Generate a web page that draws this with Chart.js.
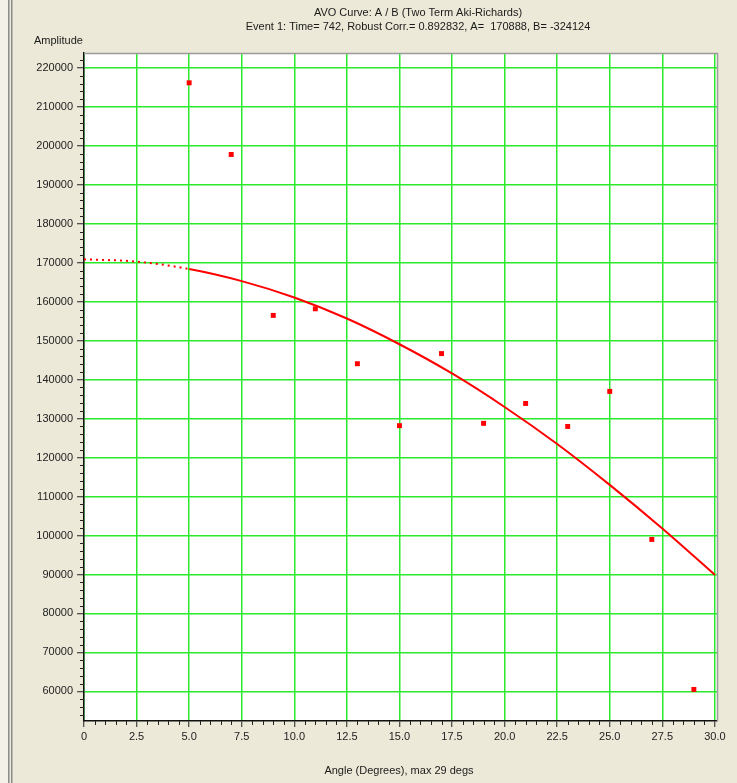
<!DOCTYPE html>
<html>
<head>
<meta charset="utf-8">
<script src="https://cdn.jsdelivr.net/npm/chart.js@4.4.0/dist/chart.umd.min.js"></script>
<style>
    html, body { margin: 0; padding: 0; background: #ECE9D8; }
    #wrap { width: 737px; height: 783px; position: relative; }
</style>
</head>
<body>
<div id="wrap"><canvas id="avoChart" width="737" height="783"></canvas></div>
<script>
// Measured amplitudes per angle (red squares)
const pointAngles = [5, 7, 9, 11, 13, 15, 17, 19, 21, 23, 25, 27, 29];
const pointValues = [216200, 197800, 156500, 158200, 144100, 128200, 146700, 128800, 133900, 128000, 137000, 99000, 60500];

// Fitted AVO curve (dotted below 5 degrees)
const curveAngles = [0, 2.5, 5, 7.5, 10, 12.5, 15, 17.5, 20, 22.5, 25, 27.5, 30];
const curveValues = [170900, 170300, 168400, 165300, 161100, 155700, 149100, 141600, 133000, 123500, 113000, 101800, 89900];

// Axis ticks
const xTicks = [0, 2.5, 5, 7.5, 10, 12.5, 15, 17.5, 20, 22.5, 25, 27.5, 30];
const yTicks = [60000, 70000, 80000, 90000, 100000, 110000, 120000, 130000, 140000, 150000, 160000, 170000, 180000, 190000, 200000, 210000, 220000];

const titleLines = ['AVO Curve: A / B (Two Term Aki-Richards)', 'Event 1: Time= 742, Robust Corr.= 0.892832, A=  170888, B= -324124'];
const yTitle = 'Amplitude';
const xTitle = 'Angle (Degrees), max 29 degs';

const FONT = '"Liberation Sans", Arial, sans-serif';

// Background frame, plot border, titles and minor ticks
const framePlugin = {
    id: 'frame',
    beforeDraw(chart) {
        const c = chart.ctx;
        const a = chart.chartArea;
        c.save();
        c.fillStyle = '#ECE9D8';
        c.fillRect(0, 0, chart.width, chart.height);
        c.fillStyle = '#F3F1E8';
        c.fillRect(0, 0, 8, chart.height);
        c.fillStyle = '#8C8C8C';
        c.fillRect(8, 0, 1.5, chart.height);
        c.fillRect(11, 0, 1.5, chart.height);
        c.fillStyle = '#FFFFFF';
        c.fillRect(a.left, a.top, a.right - a.left, a.bottom - a.top);
        c.restore();
    },
    afterDraw(chart) {
        const c = chart.ctx;
        const a = chart.chartArea;
        const xs = chart.scales.x;
        const ys = chart.scales.y;
        c.save();
        // gray border top/right
        c.strokeStyle = '#9A9A9A';
        c.lineWidth = 1.5;
        c.beginPath();
        c.moveTo(a.left, a.top + 0.5);
        c.lineTo(a.right + 0.5, a.top + 0.5);
        c.lineTo(a.right + 0.5, a.bottom);
        c.stroke();

        // minor ticks
        c.strokeStyle = '#222';
        c.lineWidth = 1;
        c.beginPath();
        for (let v = 54000; v <= 222000; v += 2000) {
            if (v % 10000 === 0) continue;
            const py = Math.round(ys.getPixelForValue(v)) + 0.5;
            c.moveTo(a.left - 4, py);
            c.lineTo(a.left, py);
        }
        for (let v = 0.5; v < 30; v += 0.5) {
            if (Math.abs(v / 2.5 - Math.round(v / 2.5)) < 1e-6) continue;
            const px = Math.round(xs.getPixelForValue(v)) + 0.5;
            c.moveTo(px, a.bottom);
            c.lineTo(px, a.bottom + 4);
        }
        c.stroke();

        // texts
        c.fillStyle = '#1A1A1A';
        c.font = '11px ' + FONT;
        c.textAlign = 'center';
        c.textBaseline = 'middle';
        c.fillText(titleLines[0], 418, 13);
        c.fillText(titleLines[1], 418, 27);
        c.fillText(xTitle, 399, 771);
        c.textAlign = 'left';
        c.fillText(yTitle, 34, 41);
        c.restore();
    }
};

const ctx = document.getElementById('avoChart');
new Chart(ctx, {
    type: 'line',
    data: {
        datasets: [{
            label: 'Fit',
            data: curveAngles.map((x, i) => ({ x: x, y: curveValues[i] })),
            borderColor: '#FF0000',
            borderWidth: 2,
            pointRadius: 0,
            tension: 0.4,
            cubicInterpolationMode: 'monotone',
            segment: {
                borderDash: c => c.p1.parsed.x <= 5 ? [2, 4] : undefined
            }
        }, {
            label: 'Amplitude',
            data: pointAngles.map((x, i) => ({ x: x, y: pointValues[i] })),
            showLine: false,
            pointStyle: 'rect',
            pointRadius: 3.5,
            pointBackgroundColor: '#FF0000',
            pointBorderColor: '#FF0000',
            pointBorderWidth: 0
        }]
    },
    options: {
        responsive: false,
        animation: false,
        layout: {
            padding: { top: 53, right: 20, left: 0, bottom: 0 }
        },
        plugins: {
            legend: { display: false },
            tooltip: { enabled: false },
            title: { display: false }
        },
        scales: {
            x: {
                type: 'linear',
                min: 0,
                max: 30.1,
                afterBuildTicks: s => { s.ticks = xTicks.map(v => ({ value: v })); },
                afterFit: s => { s.height = 62; },
                grid: {
                    color: '#2BEA2B',
                    lineWidth: 1.5,
                    tickColor: '#222',
                    tickLength: 6,
                    tickWidth: 1
                },
                border: { color: '#111', width: 1.5 },
                ticks: {
                    color: '#222',
                    font: { family: FONT, size: 11 },
                    padding: 3,
                    maxRotation: 0,
                    callback: v => v === 0 ? '0' : v.toFixed(1)
                }
            },
            y: {
                type: 'linear',
                min: 52400,
                max: 223850,
                afterBuildTicks: s => { s.ticks = yTicks.map(v => ({ value: v })); },
                afterFit: s => { s.width = 84; },
                grid: {
                    color: '#2BEA2B',
                    lineWidth: 1.5,
                    tickColor: '#222',
                    tickLength: 7,
                    tickWidth: 1
                },
                border: { color: '#111', width: 1.5 },
                ticks: {
                    color: '#222',
                    font: { family: FONT, size: 11 },
                    padding: 4,
                    callback: v => String(v)
                }
            }
        }
    },
    plugins: [framePlugin]
});
</script>
</body>
</html>
